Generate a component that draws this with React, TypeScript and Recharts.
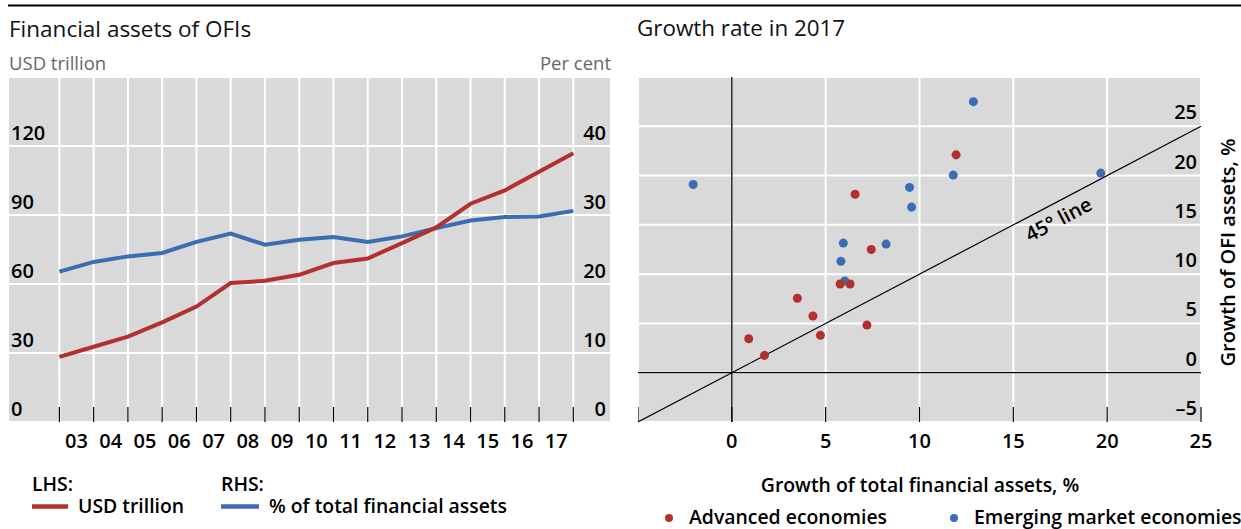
import { LineChart, Line, ScatterChart, Scatter, XAxis, YAxis, CartesianGrid, ReferenceLine, ReferenceDot } from "recharts";

// --- Left panel: financial assets of OFIs (year-end values) ---
const years = [2002, 2003, 2004, 2005, 2006, 2007, 2008, 2009, 2010, 2011, 2012, 2013, 2014, 2015, 2016, 2017];
const usdTrillion = [28.3, 32.7, 37.1, 43.3, 50.2, 60.4, 61.4, 64.0, 69.1, 71.1, 77.8, 84.6, 94.9, 100.7, 108.8, 116.8];
const pctOfTotal = [21.8, 23.2, 24.0, 24.5, 26.1, 27.3, 25.7, 26.4, 26.8, 26.1, 26.9, 28.1, 29.2, 29.7, 29.8, 30.6];
const lhsTicks = [0, 30, 60, 90, 120];
const rhsTicks = [0, 10, 20, 30, 40];

// --- Right panel: growth rate in 2017 ---
const advanced = [
  { x: 11.95, y: 22.1 }, { x: 6.57, y: 18.1 }, { x: 7.43, y: 12.5 }, { x: 5.77, y: 9.0 },
  { x: 6.3, y: 9.0 }, { x: 3.49, y: 7.55 }, { x: 4.32, y: 5.75 }, { x: 7.2, y: 4.83 },
  { x: 4.72, y: 3.79 }, { x: 0.9, y: 3.45 }, { x: 1.74, y: 1.76 },
];
const emerging = [
  { x: -2.06, y: 19.1 }, { x: 12.87, y: 27.5 }, { x: 11.8, y: 20.05 }, { x: 19.66, y: 20.25 },
  { x: 9.47, y: 18.8 }, { x: 9.58, y: 16.8 }, { x: 5.94, y: 13.15 }, { x: 8.22, y: 13.05 },
  { x: 5.81, y: 11.3 }, { x: 6.02, y: 9.3 },
];
const growthXTicks = [-5, 0, 5, 10, 15, 20, 25];
const growthYTicks = [-5, 0, 5, 10, 15, 20, 25];

const RED = "#b3302e";
const BLUE = "#3b6db3";
const GREY = "#d9d9d9";
const FONT = "'Open Sans', 'Noto Sans', sans-serif";

const lineData = years.map((year, i) => ({ year, usd: usdTrillion[i], pct: pctOfTotal[i] }));

const PLOT_W = 603;
const X_DOMAIN: [number, number] = [2000.5, 2018.1];
const HALF_YEAR = PLOT_W / (X_DOMAIN[1] - X_DOMAIN[0]) / 2;

const tickText = { fontFamily: FONT, fontSize: 20, fontWeight: 600, fill: "#000" };

const YearTick = ({ x, y, payload }: any) => {
  const yr = payload.value;
  return (
    <g>
      <line x1={x} x2={x} y1={y - 15} y2={y} stroke="#000" strokeWidth={1.2} />
      {yr < 2017 && (
        <text x={x + HALF_YEAR} y={y + 26} textAnchor="middle" {...tickText}>
          {String(yr + 1).slice(2)}
        </text>
      )}
    </g>
  );
};

// y axes are 1px wide, labels are drawn inside the plot
const LhsTick = ({ x, y, payload }: any) => (
  <text x={x + 3} y={y - 6} textAnchor="start" {...tickText}>{payload.value}</text>
);
const RhsTick = ({ x, y, payload }: any) => (
  <text x={x - 5} y={y - 6} textAnchor="end" {...tickText}>{payload.value}</text>
);

const GrowthXTick = ({ x, y, payload }: any) => (
  <g>
    <line x1={x} x2={x} y1={y - 15} y2={y} stroke="#000" strokeWidth={1.2} />
    {payload.value !== -5 && (
      <text x={x} y={y + 26} textAnchor="middle" {...tickText}>{payload.value}</text>
    )}
  </g>
);

const GrowthYTick = ({ x, y, payload }: any) => (
  <text x={x - 4} y={y - 7} textAnchor="end" {...tickText}>
    {payload.value < 0 ? `\u2013${Math.abs(payload.value)}` : payload.value}
  </text>
);

const legendLines = [
  { head: "LHS:", label: "USD trillion", color: RED, x: 32, w: 36 },
  { head: "RHS:", label: "% of total financial assets", color: BLUE, x: 221, w: 38 },
];
const legendDots = [
  { label: "Advanced economies", color: RED, x: 669 },
  { label: "Emerging market economies", color: BLUE, x: 954 },
];

export default function App() {
  const semi = { fontFamily: FONT, fontSize: 19.4, fontWeight: 600, fill: "#000" };
  return (
    <div style={{ position: "absolute", left: 0, top: 0, width: 1241, height: 529, background: "#fff", overflow: "hidden" }}>
      <svg width={1241} height={529} style={{ position: "absolute", left: 0, top: 0 }}>
        <line x1={8} x2={1241} y1={5.5} y2={5.5} stroke="#000" strokeWidth={2.2} />
        <text x={9} y={36.5} fontFamily={FONT} fontSize={22.5} fill="#111">Financial assets of OFIs</text>
        <text x={9} y={70} fontFamily={FONT} fontSize={18.5} fill="#666">USD trillion</text>
        <text x={611} y={70} textAnchor="end" fontFamily={FONT} fontSize={18.5} fill="#666">Per cent</text>
        <text x={637} y={36} fontFamily={FONT} fontSize={22.4} fill="#111">Growth rate in 2017</text>

        {legendLines.map((l) => (
          <g key={l.head}>
            <text x={l.x} y={491} {...semi}>{l.head}</text>
            <line x1={l.x} x2={l.x + l.w} y1={506.5} y2={506.5} stroke={l.color} strokeWidth={4.5} />
            <text x={l.x + l.w + 10} y={513} {...semi}>{l.label}</text>
          </g>
        ))}

        <text x={920} y={492} textAnchor="middle" {...semi}>Growth of total financial assets, %</text>
        {legendDots.map((d) => (
          <g key={d.label}>
            <circle cx={d.x} cy={518} r={4} fill={d.color} />
            <text x={d.x + 20} y={523.5} {...semi}>{d.label}</text>
          </g>
        ))}
      </svg>

      <div style={{ position: "absolute", left: 7, top: 77 }}>
        <LineChart width={PLOT_W + 2} height={380} data={lineData} margin={{ top: 0, right: 0, bottom: 0, left: 0 }}>
          <CartesianGrid yAxisId="l" fill={GREY} fillOpacity={1} stroke="#fff" strokeWidth={2} />
          <XAxis
            dataKey="year"
            type="number"
            domain={X_DOMAIN}
            ticks={years}
            allowDataOverflow
            height={35}
            axisLine={false}
            tickLine={false}
            tickSize={0}
            tickMargin={0}
            tick={<YearTick />}
            interval={0}
          />
          <YAxis yAxisId="l" domain={[0, 150]} ticks={lhsTicks} width={1} axisLine={false} tickLine={false} tickSize={0} tickMargin={0} tick={<LhsTick />} interval={0} />
          <YAxis yAxisId="r" orientation="right" domain={[0, 50]} ticks={rhsTicks} width={1} axisLine={false} tickLine={false} tickSize={0} tickMargin={0} tick={<RhsTick />} interval={0} />
          <Line yAxisId="r" dataKey="pct" stroke={BLUE} strokeWidth={4} dot={false} isAnimationActive={false} />
          <Line yAxisId="l" dataKey="usd" stroke={RED} strokeWidth={4} dot={false} isAnimationActive={false} />
        </LineChart>
      </div>

      <div style={{ position: "absolute", left: 638, top: 77 }}>
        <ScatterChart width={603} height={380} margin={{ top: 0, right: 0, bottom: 0, left: 0 }}>
          <CartesianGrid fill={GREY} fillOpacity={1} stroke="#fff" strokeWidth={2} />
          <XAxis
            dataKey="x"
            type="number"
            domain={[-5, 25]}
            ticks={growthXTicks}
            height={35}
            axisLine={false}
            tickLine={false}
            tickSize={0}
            tickMargin={0}
            tick={<GrowthXTick />}
            interval={0}
          />
          <YAxis
            dataKey="y"
            type="number"
            orientation="right"
            domain={[-5, 30]}
            ticks={growthYTicks}
            width={40}
            axisLine={false}
            tickLine={false}
            tickSize={0}
            tickMargin={0}
            tick={<GrowthYTick />}
            interval={0}
            label={{
              content: (p: any) => {
                const vb = p.viewBox;
                const cx = vb.x + 26;
                const cy = vb.y + vb.height / 2 + 3;
                return (
                  <text x={cx} y={cy} transform={`rotate(-90 ${cx} ${cy})`} textAnchor="middle" dominantBaseline="central" {...tickText}>
                    Growth of OFI assets, %
                  </text>
                );
              },
            }}
          />
          <ReferenceLine x={0} stroke="#000" strokeWidth={1.3} />
          <ReferenceLine y={0} stroke="#000" strokeWidth={1.3} />
          <ReferenceLine segment={[{ x: -5, y: -5 }, { x: 25, y: 25 }]} stroke="#000" strokeWidth={1.2} />
          <ReferenceDot
            x={17.4}
            y={15.6}
            r={1}
            fill="none"
            stroke="none"
            label={{
              content: (p: any) => {
                const vb = p.viewBox;
                const cx = vb.x + vb.width / 2;
                const cy = vb.y + vb.height / 2;
                return (
                  <text x={cx} y={cy} transform={`rotate(-27.7 ${cx} ${cy})`} textAnchor="middle" dominantBaseline="central" {...tickText}>
                    45° line
                  </text>
                );
              },
            }}
          />
          <Scatter data={emerging} fill={BLUE} isAnimationActive={false} />
          <Scatter data={advanced} fill={RED} isAnimationActive={false} />
        </ScatterChart>
      </div>
    </div>
  );
}
